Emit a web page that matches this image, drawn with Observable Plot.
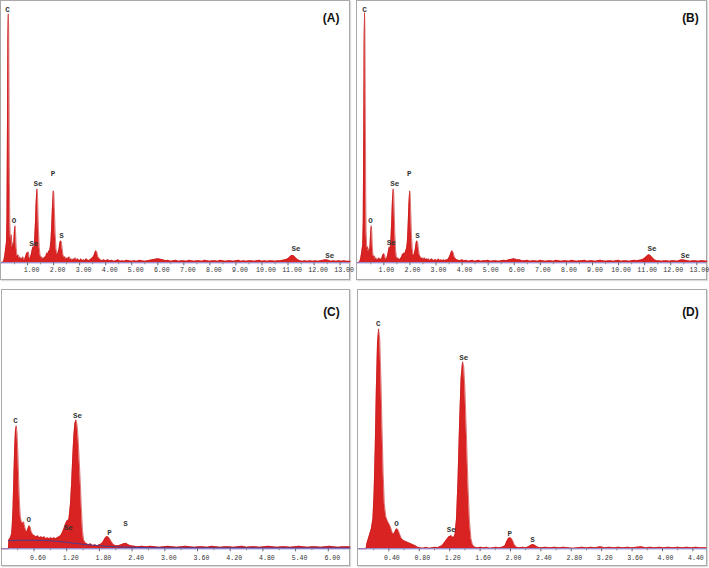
<!DOCTYPE html>
<html><head><meta charset="utf-8">
<script src="https://cdn.jsdelivr.net/npm/d3@7"></script>
<script src="https://cdn.jsdelivr.net/npm/@observablehq/plot@0.6"></script>
<style>
html,body{margin:0;padding:0;background:#fff;}
#wrap{position:relative;width:709px;height:568px;overflow:hidden;background:#fff;}
.panel{position:absolute;border:1px solid #a9a9a9;box-shadow:1px 1px 1px #dcdcdc;background:#fff;}
.panel svg{display:block;}
</style></head><body><div id="wrap"></div>
<script>
// ---- DATA (energy keV, intensity) ----
const spectrumA = [[0.00,0],[0.08,1],[0.12,6],[0.16,14],[0.19,20],[0.21,45],[0.23,140],[0.245,225],[0.26,249],[0.275,238],[0.29,170],[0.305,80],[0.32,40],[0.34,26],[0.36,20],[0.38,28],[0.40,18],[0.42,15],[0.44,20],[0.46,14],[0.48,24],[0.50,33],[0.52,37],[0.54,31],[0.56,18],[0.58,10],[0.61,6],[0.64,8],[0.67,4],[0.70,6],[0.73,3],[0.76,5],[0.79,3],[0.82,6],[0.85,4],[0.88,2],[0.91,5],[0.94,7],[0.97,10],[1.00,9],[1.03,11],[1.06,6],[1.09,3],[1.12,6],[1.15,9],[1.18,13],[1.21,16],[1.24,14],[1.27,22],[1.30,38],[1.33,60],[1.36,74],[1.38,70],[1.40,52],[1.42,32],[1.45,15],[1.48,8],[1.51,5],[1.54,6],[1.57,3],[1.60,5],[1.63,4],[1.66,6],[1.69,5],[1.72,8],[1.75,10],[1.78,8],[1.81,12],[1.84,11],[1.87,15],[1.90,22],[1.93,38],[1.96,58],[1.99,72],[2.01,70],[2.03,55],[2.06,30],[2.09,15],[2.12,9],[2.15,8],[2.18,11],[2.21,14],[2.24,20],[2.27,22],[2.30,21],[2.33,14],[2.36,8],[2.40,5],[2.44,6],[2.48,3],[2.52,5],[2.56,4],[2.60,6],[2.64,3],[2.68,4],[2.72,2],[2.76,4],[2.80,3],[2.84,5],[2.88,2],[2.92,4],[2.96,3],[3.00,2],[3.05,4],[3.10,2],[3.15,3],[3.20,2],[3.25,4],[3.30,3],[3.35,2],[3.40,3],[3.45,4],[3.50,5],[3.55,7],[3.59,10],[3.62,12],[3.66,11],[3.70,6],[3.75,4],[3.80,3],[3.86,2],[3.92,3],[4.00,2],[4.08,3],[4.16,2],[4.24,2.5],[4.32,1.5],[4.40,2],[4.48,3],[4.56,1.5],[4.64,2],[4.72,1.5],[4.80,2.5],[4.90,2],[5.00,1.5],[5.10,2],[5.20,1.5],[5.30,2.5],[5.40,2],[5.50,1.5],[5.60,2],[5.70,2.5],[5.80,3],[5.90,3.5],[6.00,4],[6.10,3.5],[6.20,3],[6.30,2],[6.40,2.5],[6.50,1.5],[6.60,2],[6.70,2.5],[6.80,1.5],[6.90,2],[7.00,2],[7.10,1.5],[7.20,2.5],[7.30,2],[7.40,1.5],[7.50,2],[7.60,2],[7.70,1.5],[7.80,2.5],[7.90,2],[8.00,1.5],[8.10,2],[8.20,2],[8.30,1.5],[8.40,2.5],[8.50,2],[8.60,1.5],[8.70,2],[8.80,2],[8.90,1.5],[9.00,2],[9.10,2.5],[9.20,1.5],[9.30,2],[9.40,1.5],[9.50,2],[9.60,2],[9.70,1.5],[9.80,2],[9.90,2.5],[10.00,1.5],[10.10,2],[10.20,1.5],[10.30,2],[10.40,2],[10.50,1.5],[10.60,2],[10.70,2],[10.80,2.5],[10.90,3],[11.00,4],[11.08,6],[11.15,7.5],[11.22,7],[11.30,5],[11.38,3],[11.46,2],[11.55,1.5],[11.65,2],[11.75,1.5],[11.85,2],[11.95,1.5],[12.05,2],[12.15,1.5],[12.25,2],[12.35,2.5],[12.45,3],[12.55,2.5],[12.65,1.5],[12.75,2],[12.85,1.5],[12.95,2],[13.05,1.5],[13.15,2],[13.25,1.5],[13.40,1.5]];

const spectrumB = [[0.00,0],[0.08,1],[0.12,5],[0.16,12],[0.19,18],[0.21,40],[0.23,130],[0.245,220],[0.26,250],[0.275,235],[0.29,160],[0.305,70],[0.32,32],[0.34,18],[0.36,14],[0.38,16],[0.40,12],[0.42,10],[0.44,14],[0.46,12],[0.48,22],[0.50,32],[0.52,37],[0.54,30],[0.56,16],[0.58,9],[0.61,5],[0.64,7],[0.67,3],[0.70,5],[0.73,2],[0.76,4],[0.79,3],[0.82,5],[0.85,3],[0.88,4],[0.91,3],[0.94,6],[0.97,8],[1.00,9],[1.03,8],[1.06,4],[1.09,3],[1.12,5],[1.15,8],[1.18,12],[1.21,16],[1.24,13],[1.27,22],[1.30,40],[1.33,62],[1.36,74],[1.38,69],[1.40,50],[1.42,30],[1.45,13],[1.48,6],[1.51,4],[1.54,5],[1.57,3],[1.60,4],[1.63,3],[1.66,5],[1.69,6],[1.72,9],[1.75,8],[1.78,10],[1.81,9],[1.84,12],[1.87,14],[1.90,20],[1.93,36],[1.96,58],[1.99,72],[2.01,69],[2.03,52],[2.06,28],[2.09,14],[2.12,8],[2.15,7],[2.18,10],[2.21,14],[2.24,20],[2.27,22],[2.30,20],[2.33,13],[2.36,8],[2.40,6],[2.44,4],[2.48,5],[2.52,3],[2.56,5],[2.60,3],[2.64,4],[2.68,3],[2.72,4],[2.76,2],[2.80,3],[2.84,4],[2.88,3],[2.92,2],[2.96,3],[3.00,3],[3.05,2],[3.10,4],[3.15,2],[3.20,3],[3.25,2],[3.30,3],[3.35,2],[3.40,3],[3.45,3],[3.50,5],[3.55,8],[3.59,11],[3.62,12],[3.66,10],[3.70,6],[3.75,4],[3.80,3],[3.86,2.5],[3.92,2],[4.00,3],[4.08,2],[4.16,2.5],[4.24,1.5],[4.32,2],[4.40,2.5],[4.48,1.5],[4.56,2],[4.64,2.5],[4.72,1.5],[4.80,2],[4.90,2],[5.00,2.5],[5.10,1.5],[5.20,2],[5.30,2],[5.40,1.5],[5.50,2],[5.60,2.5],[5.70,2],[5.80,3],[5.90,3.5],[6.00,4],[6.10,3],[6.20,3],[6.30,2],[6.40,2],[6.50,2.5],[6.60,1.5],[6.70,2],[6.80,2],[6.90,1.5],[7.00,2.5],[7.10,2],[7.20,1.5],[7.30,2],[7.40,2],[7.50,1.5],[7.60,2.5],[7.70,2],[7.80,1.5],[7.90,2],[8.00,2],[8.10,1.5],[8.20,2.5],[8.30,2],[8.40,1.5],[8.50,2],[8.60,2],[8.70,2.5],[8.80,1.5],[8.90,2],[9.00,2],[9.10,1.5],[9.20,2],[9.30,2.5],[9.40,2],[9.50,1.5],[9.60,2],[9.70,2],[9.80,1.5],[9.90,2],[10.00,2.5],[10.10,1.5],[10.20,2],[10.30,2],[10.40,1.5],[10.50,2],[10.60,2.5],[10.70,2],[10.80,2.5],[10.90,3],[11.00,4.5],[11.08,6.5],[11.15,8],[11.22,7.5],[11.30,5],[11.38,3],[11.46,2],[11.55,2],[11.65,1.5],[11.75,2],[11.85,2],[11.95,1.5],[12.05,2],[12.15,2],[12.25,1.5],[12.35,2.5],[12.45,3],[12.55,2.5],[12.65,2],[12.75,1.5],[12.85,2],[12.95,2],[13.05,1.5],[13.15,2],[13.25,2],[13.40,1.5]];

const spectrumC = [[0.00,0],[0.13,0],[0.14,9],[0.17,11],[0.19,15],[0.20,22],[0.215,40],[0.23,70],[0.245,100],[0.26,118],[0.275,123],[0.29,115],[0.305,95],[0.32,68],[0.335,45],[0.35,32],[0.37,27],[0.39,25],[0.41,27],[0.43,22],[0.45,18],[0.47,17],[0.49,20],[0.51,23],[0.53,22],[0.55,17],[0.58,14],[0.61,13],[0.64,12],[0.67,13],[0.70,11],[0.73,12],[0.76,11],[0.79,12],[0.82,10],[0.85,11],[0.88,10],[0.91,11],[0.94,10],[0.97,11],[1.00,10],[1.03,11],[1.06,12],[1.09,13],[1.12,16],[1.15,20],[1.18,25],[1.21,28],[1.24,29],[1.27,45],[1.29,65],[1.31,90],[1.33,112],[1.35,125],[1.37,129],[1.39,124],[1.41,110],[1.43,88],[1.45,66],[1.47,40],[1.49,18],[1.51,9],[1.54,6],[1.57,5],[1.60,4],[1.64,5],[1.68,3],[1.72,4],[1.76,3],[1.80,4],[1.84,5],[1.87,7],[1.90,10],[1.93,12],[1.96,12],[1.99,10],[2.02,7],[2.06,4],[2.10,3],[2.15,3],[2.20,4],[2.25,5],[2.29,5.5],[2.33,4],[2.38,3],[2.44,2.5],[2.50,2],[2.58,2.5],[2.66,2],[2.74,2.5],[2.82,2],[2.90,1.5],[2.98,2],[3.06,2.5],[3.14,2],[3.22,1.5],[3.30,2],[3.38,2.5],[3.46,2],[3.54,1.5],[3.62,2],[3.70,2],[3.78,1.5],[3.86,2.5],[3.94,2],[4.02,1.5],[4.10,2],[4.18,2],[4.26,1.5],[4.34,2],[4.42,2.5],[4.50,1.5],[4.58,2],[4.66,2],[4.74,1.5],[4.82,2],[4.90,2.5],[4.98,2],[5.06,1.5],[5.14,2],[5.22,2],[5.30,1.5],[5.38,2],[5.46,2.5],[5.54,2],[5.62,1.5],[5.70,2],[5.78,2],[5.86,1.5],[5.94,2],[6.02,2.5],[6.10,2],[6.18,1.5],[6.26,2],[6.34,2],[6.40,2]];

const backgroundC = [[0.13,8],[0.30,8.5],[0.60,8.5],[0.90,8],[1.20,6.5],[1.50,4.5],[1.80,3],[2.10,2],[2.40,1.5],[3.00,1],[6.40,0.8]];

const spectrumD = [[0.00,0],[0.10,0],[0.11,5],[0.13,10],[0.15,15],[0.17,20],[0.19,30],[0.205,55],[0.22,100],[0.235,160],[0.25,205],[0.265,220],[0.28,210],[0.295,170],[0.31,120],[0.325,75],[0.34,45],[0.36,32],[0.38,28],[0.40,25],[0.42,22],[0.44,17],[0.46,14],[0.48,17],[0.50,20],[0.52,19],[0.54,15],[0.56,11],[0.58,9],[0.60,8],[0.63,7],[0.66,6],[0.69,5],[0.72,4],[0.75,3],[0.78,1.5],[0.81,1],[0.85,0.5],[0.89,1.5],[0.93,0.5],[0.97,1],[1.01,1.5],[1.04,1],[1.07,2],[1.10,3],[1.13,6],[1.16,9],[1.19,12],[1.22,13],[1.25,11],[1.27,14],[1.29,30],[1.31,70],[1.33,125],[1.35,170],[1.37,187],[1.385,182],[1.40,160],[1.42,115],[1.44,65],[1.46,28],[1.48,10],[1.50,4],[1.53,1.5],[1.57,1],[1.61,1.5],[1.65,1],[1.69,1.5],[1.73,0.5],[1.77,1],[1.81,1.5],[1.85,1],[1.89,1.5],[1.93,3],[1.95,7],[1.97,10],[1.99,11],[2.01,10.5],[2.03,8],[2.05,4],[2.08,1.5],[2.12,1],[2.16,1.5],[2.20,1],[2.24,2],[2.26,3],[2.28,4],[2.31,4],[2.33,3],[2.36,1.5],[2.40,1],[2.46,1.5],[2.52,1],[2.58,1.5],[2.64,1],[2.70,1.5],[2.76,1],[2.82,0.5],[2.88,1],[2.94,1.5],[3.00,1],[3.06,1.5],[3.12,1],[3.18,2],[3.24,1],[3.30,1.5],[3.36,1],[3.42,1.5],[3.48,1],[3.54,1.5],[3.60,1],[3.66,1.5],[3.72,2],[3.78,1],[3.84,1.5],[3.90,1],[3.96,1.5],[4.02,1],[4.08,1.5],[4.14,1],[4.20,1.5],[4.26,1],[4.32,1.5],[4.38,1],[4.44,1.5],[4.50,1],[4.58,1]];

// peak labels: [element, keV, label height]
const peaksA = [["C",0.23,253],["O",0.48,42],["Se",1.24,19.6],["Se",1.40,79.6],["P",1.98,89],["S",2.30,27],["Se",11.31,14],["Se",12.6,7.3]];
const peaksB = [["C",0.257,253],["O",0.49,42],["Se",1.28,20],["Se",1.42,79.6],["P",1.97,89],["S",2.29,27],["Se",11.28,14],["Se",12.56,7.3]];
const peaksC = [["C",0.26,128.3],["O",0.505,29.6],["Se",1.23,21.6],["Se",1.40,133.3],["P",1.985,16.6],["S",2.28,25.6]];
const peaksD = [["C",0.26,225],["O",0.50,25],["Se",1.22,19],["Se",1.386,191.6],["P",1.99,15],["S",2.29,9.6]];

// tick values
const ticksAB = [1,2,3,4,5,6,7,8,9,10,11,12,13];
const ticksC = [0.6,1.2,1.8,2.4,3.0,3.6,4.2,4.8,5.4,6.0];
const ticksD = [0.4,0.8,1.2,1.6,2.0,2.4,2.8,3.2,3.6,4.0,4.4];
const panelLetters = ["(A)","(B)","(C)","(D)"];

// ---- DRAW ----
const RED = "#d92323";
const toObj = arr => arr.map(([e, c]) => ({e, c}));
const toLab = arr => arr.map(([n, e, h]) => ({n, e, h}));
const mid = t => t.slice(0, -1).map((v, i) => (v + t[i + 1]) / 2).concat([t[0] / 2]);

function panel(cfg) {
  const marks = [
    Plot.areaY(toObj(cfg.spec), {x: "e", y: "c", fill: RED}),
    Plot.lineY(toObj(cfg.spec), {x: "e", y: "c", stroke: "#c81c1c", strokeWidth: 0.6}),
  ];
  if (cfg.bg) marks.push(Plot.lineY(toObj(cfg.bg), {x: "e", y: "c", stroke: "#4a3b8e", strokeWidth: 1, curve: "monotone-x"}));
  marks.push(
    Plot.ruleY([0], {stroke: "#7474d0", strokeWidth: 1}),
    Plot.axisX(cfg.ticks, {tickSize: 3, fill: "none", stroke: "#666", label: null}),
    Plot.axisX(mid(cfg.ticks), {tickSize: 2, fill: "none", stroke: "#888", label: null}),
    Plot.axisX(cfg.ticks, {stroke: "none", tickSize: 3, tickPadding: cfg.tp, dx: cfg.tdx, label: null, tickFormat: d => d.toFixed(2), fontFamily: "Liberation Mono, DejaVu Sans Mono, monospace", fontSize: 6.6, fill: "#333"}),
    Plot.text(toLab(cfg.peaks), {x: "e", y: "h", text: "n", fontFamily: "Liberation Mono, DejaVu Sans Mono, monospace", fontSize: 7.5, fontWeight: "bold", fill: "#333"}),
    Plot.text([cfg.letter], {frameAnchor: "top-right", textAnchor: "end", dx: cfg.ldx, dy: cfg.ldy, fontFamily: "Liberation Sans, Arial, sans-serif", fontWeight: "bold", fontSize: 12, fill: "#111"})
  );
  const svg = Plot.plot({
    width: cfg.w, height: cfg.h,
    marginLeft: 0, marginRight: 0, marginTop: 0, marginBottom: cfg.mb,
    x: {domain: cfg.xdom, axis: null, label: null},
    y: {domain: [0, cfg.h - cfg.mb], axis: null, label: null},
    style: {background: "white", overflow: "visible"},
    marks
  });
  const div = document.createElement("div");
  div.className = "panel";
  div.style.left = cfg.left + "px";
  div.style.top = cfg.top + "px";
  div.style.width = cfg.w + "px";
  div.style.height = cfg.h + "px";
  div.appendChild(svg);
  document.getElementById("wrap").appendChild(div);
}

panel({left: 0, top: 0, w: 348, h: 278, mb: 16.7, xdom: [0, 13.36], ticks: ticksAB, tp: 2, tdx: 4, spec: spectrumA, peaks: peaksA, letter: panelLetters[0], ldx: -10, ldy: 12.3});
panel({left: 356, top: 0, w: 349, h: 278, mb: 16.7, xdom: [-0.01, 13.37], ticks: ticksAB, tp: 2, tdx: 2.5, spec: spectrumB, peaks: peaksB, letter: panelLetters[1], ldx: -7.7, ldy: 12});
panel({left: 1, top: 289, w: 347, h: 275, mb: 16.7, xdom: [0.022, 6.389], ticks: ticksC, tp: 4, tdx: 4, spec: spectrumC, bg: backgroundC, peaks: peaksC, letter: panelLetters[2], ldx: -9.7, ldy: 16.7});
panel({left: 357, top: 289, w: 348, h: 275, mb: 16.7, xdom: [0, 4.579], ticks: ticksD, tp: 4, tdx: 3, spec: spectrumD, peaks: peaksD, letter: panelLetters[3], ldx: -7.7, ldy: 16.7});
</script>
</body></html>
